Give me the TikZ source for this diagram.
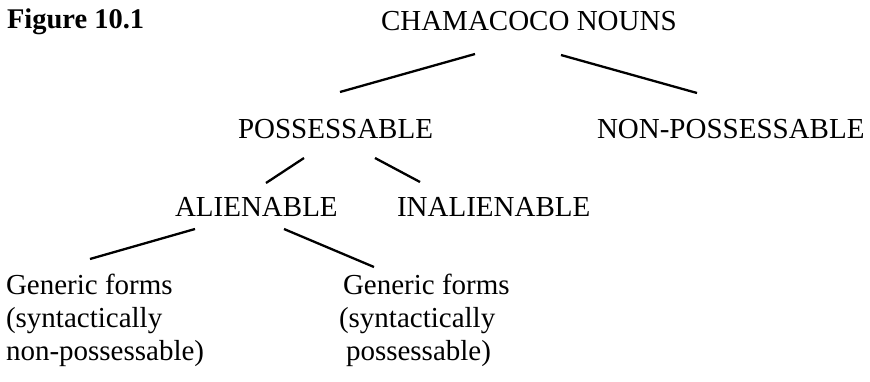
\documentclass[tikz,border=0pt]{standalone}
\usepackage{fontspec}
\setmainfont{Liberation Serif}
\begin{document}
\begin{tikzpicture}[x=1pt,y=-1pt,
  lbl/.style={inner sep=0pt,outer sep=0pt,anchor=base west,font=\fontsize{29}{33}\selectfont},
  ttl/.style={lbl},
  fig/.style={lbl,font=\fontsize{28.5}{33}\selectfont\bfseries},
  branch/.style={line width=2.3pt,line cap=butt}]
\useasboundingbox (0,0) rectangle (870,381);
% labels
\node[fig] (fig) at (7,28.5) {Figure 10.1};
\node[ttl] (root) at (381,30.5) {CHAMACOCO NOUNS};
\node[lbl] (poss) at (238,138.5) {POSSESSABLE};
\node[lbl] (nonposs) at (597,138.5) {NON-POSSESSABLE};
\node[lbl] (alien) at (175,216) {ALIENABLE};
\node[lbl] (inalien) at (397,216) {INALIENABLE};
\node[lbl] (gl1) at (6,294) {Generic forms};
\node[lbl] (gl2) at (6,327) {(syntactically};
\node[lbl] (gl3) at (6,360) {non-possessable)};
\node[lbl] (gr1) at (343,294) {Generic forms};
\node[lbl] (gr2) at (339,327) {(syntactically};
\node[lbl] (gr3) at (346,360) {possessable)};
% connector ends
\coordinate (r1) at (475,54);  \coordinate (p1) at (340,92);
\coordinate (r2) at (561,55);  \coordinate (n1) at (697,93);
\coordinate (p2) at (304,158); \coordinate (a1) at (266,183);
\coordinate (p3) at (375,158); \coordinate (i1) at (420,182);
\coordinate (a2) at (195,229); \coordinate (g1) at (90,259);
\coordinate (a3) at (284,229); \coordinate (g2) at (374,267);
\draw[branch] (r1) -- (p1);
\draw[branch] (r2) -- (n1);
\draw[branch] (p2) -- (a1);
\draw[branch] (p3) -- (i1);
\draw[branch] (a2) -- (g1);
\draw[branch] (a3) -- (g2);
\end{tikzpicture}
\end{document}
